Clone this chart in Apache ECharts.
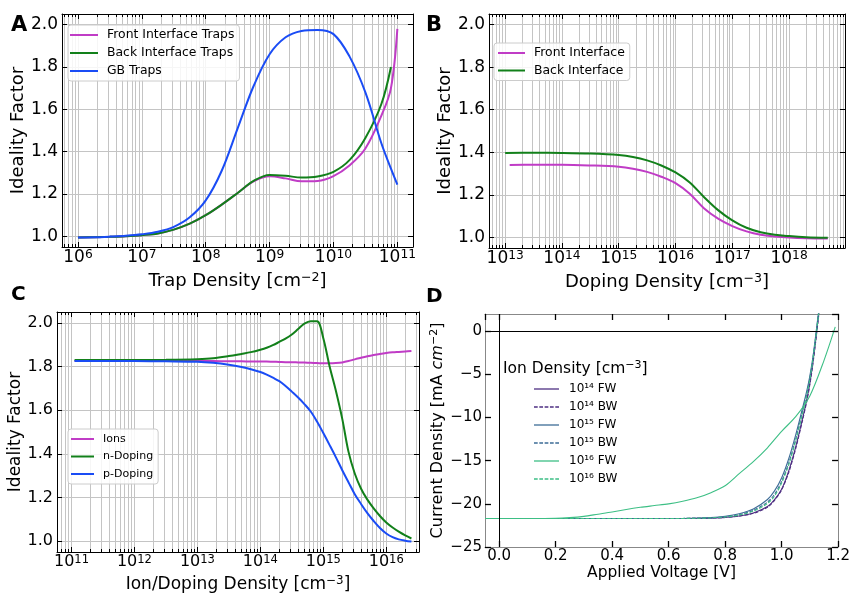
<!DOCTYPE html>
<html><head><meta charset="utf-8">
<script src="https://cdn.jsdelivr.net/npm/echarts@6/dist/echarts.min.js"></script>
<style>html,body{margin:0;padding:0;background:#fff}#c{width:853px;height:595px}</style>
</head><body><div id="c"></div>
<script>
// ---------- Panel A : ideality factor vs trap density ----------
const trapDensity = [1e6, 1.78e6, 3.16e6, 5.62e6, 1e7, 1.78e7, 3.16e7, 5.62e7, 1e8, 1.78e8, 3.16e8, 5.62e8, 1e9, 1.78e9, 3.16e9, 5.62e9, 1e10, 1.78e10, 3.16e10, 5.62e10, 7.94e10, 1e11];
const frontTraps = [0.995, 0.996, 0.998, 1.001, 1.006, 1.014, 1.032, 1.06, 1.10, 1.15, 1.205, 1.26, 1.284, 1.274, 1.26, 1.262, 1.285, 1.335, 1.415, 1.57, 1.70, 1.98];
const backTraps  = [0.995, 0.996, 0.998, 1.001, 1.006, 1.014, 1.032, 1.06, 1.10, 1.15, 1.205, 1.262, 1.29, 1.286, 1.278, 1.283, 1.305, 1.36, 1.465, 1.625, 1.80, null];
const gbTraps    = [0.995, 0.996, 0.999, 1.003, 1.01, 1.022, 1.045, 1.09, 1.17, 1.31, 1.51, 1.71, 1.86, 1.94, 1.97, 1.975, 1.955, 1.85, 1.68, 1.44, 1.32, 1.245];

// ---------- Panel B : ideality factor vs doping density ----------
const dopingDensityBack  = [1e13, 3.16e13, 1e14, 3.16e14, 1e15, 1.78e15, 3.16e15, 5.62e15, 1e16, 1.78e16, 3.16e16, 5.62e16, 1e17, 1.78e17, 3.16e17, 5.62e17, 1e18, 2e18, 4.8e18];
const dopingDensityFront = [1.2e13, 3.16e13, 1e14, 3.16e14, 1e15, 1.78e15, 3.16e15, 5.62e15, 1e16, 1.78e16, 3.16e16, 5.62e16, 1e17, 1.78e17, 3.16e17, 5.62e17, 1e18, 2e18, 4.8e18];
const backInterface  = [1.397, 1.398, 1.397, 1.394, 1.387, 1.378, 1.362, 1.338, 1.305, 1.258, 1.19, 1.128, 1.08, 1.045, 1.024, 1.012, 1.006, 1.001, 0.998];
const frontInterface = [1.34, 1.341, 1.341, 1.338, 1.332, 1.323, 1.308, 1.285, 1.255, 1.205, 1.137, 1.088, 1.053, 1.028, 1.012, 1.004, 0.999, 0.996, 0.995];

// ---------- Panel C : ideality factor vs ion / doping density ----------
const ionDopingDensity = [1.12e11, 3.16e11, 1e12, 3.16e12, 1e13, 1.78e13, 3.16e13, 5.01e13, 7.08e13, 1e14, 1.26e14, 1.58e14, 2e14, 2.51e14, 3.16e14, 3.98e14, 5.01e14, 6.31e14, 7.94e14, 1e15, 1.26e15, 1.58e15, 2e15, 2.51e15, 3.16e15, 3.98e15, 5.01e15, 6.31e15, 7.94e15, 1e16, 1.26e16, 1.58e16, 2e16, 2.51e16];
const ions     = [1.825, 1.825, 1.825, 1.825, 1.825, 1.825, 1.824, 1.824, 1.823, 1.823, 1.823, 1.822, 1.821, 1.82, 1.82, 1.819, 1.818, 1.817, 1.816, 1.815, 1.815, 1.816, 1.819, 1.825, 1.833, 1.84, 1.847, 1.853, 1.858, 1.862, 1.865, 1.867, 1.869, 1.871];
const nDoping  = [1.83, 1.83, 1.83, 1.831, 1.834, 1.838, 1.848, 1.858, 1.866, 1.877, 1.886, 1.898, 1.913, 1.928, 1.947, 1.972, 1.997, 2.008, 2.008, 1.93, 1.80, 1.69, 1.56, 1.41, 1.31, 1.24, 1.19, 1.15, 1.115, 1.085, 1.062, 1.043, 1.026, 1.012];
const pDoping  = [1.825, 1.825, 1.825, 1.824, 1.822, 1.817, 1.808, 1.798, 1.788, 1.775, 1.763, 1.749, 1.733, 1.711, 1.685, 1.658, 1.628, 1.594, 1.548, 1.495, 1.44, 1.385, 1.325, 1.27, 1.215, 1.17, 1.128, 1.092, 1.06, 1.035, 1.018, 1.008, 1.002, 0.998];

// ---------- Panel D : J-V curves ----------
const voltage = [-0.05, 0, 0.1, 0.2, 0.3, 0.4, 0.5, 0.6, 0.7, 0.75, 0.8, 0.85, 0.9, 0.95, 0.975, 1.0, 1.025, 1.05, 1.075, 1.09, 1.1, 1.11, 1.12, 1.13, 1.14];
const j14FW = [-21.7, -21.7, -21.7, -21.7, -21.7, -21.7, -21.7, -21.7, -21.68, -21.65, -21.57, -21.4, -21.05, -20.3, -19.5, -18.3, -16.2, -13.4, -10.0, -7.8, -6.0, -3.8, -1.2, 1.6, 4.5];
const j14BW = [-21.7, -21.7, -21.7, -21.7, -21.7, -21.7, -21.7, -21.7, -21.68, -21.65, -21.58, -21.42, -21.1, -20.4, -19.6, -18.4, -16.4, -13.6, -10.2, -8.0, -6.2, -4.0, -1.4, 1.4, 4.3];
const j15FW = [-21.7, -21.7, -21.7, -21.7, -21.7, -21.7, -21.7, -21.7, -21.66, -21.6, -21.45, -21.15, -20.6, -19.5, -18.5, -17.0, -14.8, -12.0, -8.8, -6.8, -5.2, -3.2, -0.7, 2.0, 4.8];
const j15BW = [-21.7, -21.7, -21.7, -21.7, -21.7, -21.7, -21.7, -21.7, -21.67, -21.62, -21.5, -21.25, -20.75, -19.8, -18.9, -17.4, -15.3, -12.5, -9.2, -7.1, -5.5, -3.4, -0.9, 1.8, 4.6];
const j16BW = [-21.7, -21.7, -21.7, -21.7, -21.7, -21.7, -21.7, -21.7, -21.67, -21.62, -21.52, -21.3, -20.85, -19.95, -19.1, -17.6, -15.5, -12.7, -9.4, -7.3, -5.6, -3.5, -1.0, 1.7, 4.5];
const voltage16FW = [-0.05, 0, 0.1, 0.2, 0.25, 0.3, 0.35, 0.4, 0.45, 0.5, 0.55, 0.6, 0.65, 0.7, 0.75, 0.8, 0.85, 0.9, 0.95, 1.0, 1.05, 1.1, 1.15, 1.19];
const j16FW = [-21.7, -21.7, -21.7, -21.68, -21.6, -21.45, -21.2, -20.95, -20.65, -20.4, -20.2, -20.0, -19.7, -19.3, -18.7, -17.9, -16.5, -15.1, -13.5, -11.6, -9.9, -7.5, -3.4, 0.5];

const FONT = 'DejaVu Sans';
const MAGENTA = '#c03cc6', GREEN = '#12801a', BLUE = '#1a4cf5';
const C14 = '#4e2f82', C15 = '#3d6c97', C16 = '#3dbf85';
const GRIDC = '#c4c4c4';
const DASH_ICON = 'path://M0,0h3.7v1h-3.7zM5.3,0h3.7v1h-3.7zM10.6,0h3.7v1h-3.7zM15.9,0h3.7v1h-3.7zM21.2,0h3.7v1h-3.7z';

const pairs = (xs, ys) => xs.map((x, i) => [x, ys[i]]);

function logX(gi, minE, maxE, fs, name, nameFs, nameGap, margin) {
  const common = { type: 'log', logBase: 10, gridIndex: gi, min: Math.pow(10, minE), max: Math.pow(10, maxE) };
  return [
    Object.assign({}, common, {
      position: 'bottom',
      name: name, nameLocation: 'middle', nameGap: nameGap,
      nameTextStyle: { fontSize: nameFs, fontFamily: FONT, color: '#000', lineHeight: nameFs + 2,
        rich: { s: { fontSize: nameFs * 0.7, fontFamily: FONT, color: '#000', verticalAlign: 'top', lineHeight: 6 } } },
      axisLine: { show: true, onZero: false, lineStyle: { color: '#000', width: 1 } },
      axisTick: { show: true, inside: true, length: 5, lineStyle: { color: '#000', width: 1 } },
      minorTick: { show: true, splitNumber: 9, length: 3, lineStyle: { color: '#000', width: 1 } },
      splitLine: { show: true, lineStyle: { color: GRIDC, width: 1 } },
      minorSplitLine: { show: true, lineStyle: { color: GRIDC, width: 1 } },
      axisLabel: {
        showMinLabel: false, showMaxLabel: false, margin: margin,
        formatter: v => '{b|10}{s|' + Math.round(Math.log10(v)) + '}',
        rich: {
          b: { fontSize: fs, lineHeight: fs, fontFamily: FONT, color: '#000' },
          s: { fontSize: fs * 0.72, lineHeight: 3, verticalAlign: 'top', fontFamily: FONT, color: '#000' }
        }
      }
    }),
    Object.assign({}, common, {
      position: 'top',
      axisLine: { show: true, onZero: false, lineStyle: { color: '#000', width: 1 } },
      axisTick: { show: true, inside: true, length: 5, lineStyle: { color: '#000', width: 1 } },
      minorTick: { show: true, splitNumber: 9, length: 3, lineStyle: { color: '#000', width: 1 } },
      splitLine: { show: false }, minorSplitLine: { show: false },
      axisLabel: { show: false }
    })
  ];
}

function idealY(gi, fs, nameFs, nameGap) {
  const common = { type: 'value', gridIndex: gi, min: 0.95, max: 2.05, splitNumber: 5 };
  return [
    Object.assign({}, common, {
      position: 'left',
      name: 'Ideality Factor', nameLocation: 'middle', nameGap: nameGap,
      nameTextStyle: { fontSize: nameFs, fontFamily: FONT, color: '#000' },
      axisLine: { show: true, onZero: false, lineStyle: { color: '#000', width: 1 } },
      axisTick: { show: true, inside: true, length: 5, lineStyle: { color: '#000', width: 1 } },
      splitLine: { show: true, lineStyle: { color: GRIDC, width: 1 } },
      axisLabel: { showMinLabel: false, showMaxLabel: false, margin: 4, fontSize: fs, fontFamily: FONT, color: '#000',
        formatter: v => v.toFixed(1) }
    }),
    Object.assign({}, common, {
      position: 'right',
      axisLine: { show: true, onZero: false, lineStyle: { color: '#000', width: 1 } },
      axisTick: { show: true, inside: true, length: 5, lineStyle: { color: '#000', width: 1 } },
      splitLine: { show: false }, axisLabel: { show: false }
    })
  ];
}

const xAxes = [].concat(
  logX(0, 5.75, 11.245, 17, 'Trap Density [cm{s|−2}]', 18, 24, 2),
  logX(1, 12.715, 18.985, 17, 'Doping Density [cm{s|−3}]', 18, 24, 2),
  logX(2, 10.77, 16.52, 16, 'Ion/Doping Density [cm{s|−3}]', 17, 23, 2),
  [
    { type: 'value', gridIndex: 3, position: 'bottom', min: -0.05, max: 1.2, splitNumber: 6,
      name: 'Applied Voltage [V]', nameLocation: 'middle', nameGap: 17,
      nameTextStyle: { fontSize: 15.5, fontFamily: FONT, color: '#000' },
      axisLine: { show: true, onZero: false, lineStyle: { color: '#888', width: 1 } },
      axisTick: { show: true, inside: true, length: 6, lineStyle: { color: '#000', width: 1.3 } },
      splitLine: { show: false },
      axisLabel: { showMinLabel: false, margin: 2, fontSize: 15, fontFamily: FONT, color: '#000', formatter: v => v.toFixed(1) } },
    { type: 'value', gridIndex: 3, position: 'top', min: -0.05, max: 1.2, splitNumber: 6,
      axisLine: { show: true, onZero: false, lineStyle: { color: '#888', width: 1 } },
      axisTick: { show: true, inside: true, length: 6, lineStyle: { color: '#000', width: 1.3 } },
      splitLine: { show: false }, axisLabel: { show: false } }
  ]
);

const yAxes = [].concat(
  idealY(0, 17, 18, 34),
  idealY(1, 17, 18, 35),
  idealY(2, 16, 17, 31),
  [
    { type: 'value', gridIndex: 3, position: 'left', min: -25, max: 2, interval: 5,
      name: 'Current Density [mA {i|cm}{s|−2}]', nameLocation: 'middle', nameGap: 38,
      nameTextStyle: { fontSize: 16, fontFamily: FONT, color: '#000', lineHeight: 18,
        rich: { i: { fontSize: 16, fontStyle: 'italic', fontFamily: FONT, color: '#000' },
                s: { fontSize: 11, verticalAlign: 'top', lineHeight: 6, fontFamily: FONT, color: '#000' } } },
      axisLine: { show: true, onZero: false, lineStyle: { color: '#888', width: 1 } },
      axisTick: { show: true, inside: true, length: 6, lineStyle: { color: '#000', width: 1.3 } },
      splitLine: { show: false },
      axisLabel: { showMaxLabel: false, margin: 3, fontSize: 15, fontFamily: FONT, color: '#000',
        formatter: v => String(v).replace('-', '−') } },
    { type: 'value', gridIndex: 3, position: 'right', min: -25, max: 2, interval: 5,
      axisLine: { show: true, onZero: false, lineStyle: { color: '#888', width: 1 } },
      axisTick: { show: true, inside: true, length: 6, lineStyle: { color: '#000', width: 1.3 } },
      splitLine: { show: false }, axisLabel: { show: false } }
  ]
);

function line(name, gi, data, color, width, dashed) {
  return { type: 'line', name: name, xAxisIndex: gi * 2, yAxisIndex: gi * 2, data: data,
    symbol: 'none', smooth: gi === 3 ? 0.3 : 0.35, color: color,
    lineStyle: { color: color, width: width, type: dashed ? [3.7, 1.6] : 'solid' }, z: 3 };
}

const series = [
  line('Front Interface Traps', 0, pairs(trapDensity, frontTraps), MAGENTA, 2),
  line('Back Interface Traps', 0, pairs(trapDensity, backTraps), GREEN, 2),
  line('GB Traps', 0, pairs(trapDensity, gbTraps), BLUE, 2),
  line('Front Interface', 1, pairs(dopingDensityFront, frontInterface), MAGENTA, 2),
  line('Back Interface', 1, pairs(dopingDensityBack, backInterface), GREEN, 2),
  line('Ions', 2, pairs(ionDopingDensity, ions), MAGENTA, 2),
  line('n-Doping', 2, pairs(ionDopingDensity, nDoping), GREEN, 2),
  line('p-Doping', 2, pairs(ionDopingDensity, pDoping), BLUE, 2),
  line('10¹⁴ FW', 3, pairs(voltage, j14FW), C14, 1.1),
  line('10¹⁴ BW', 3, pairs(voltage, j14BW), C14, 1.1, true),
  line('10¹⁵ FW', 3, pairs(voltage, j15FW), C15, 1.1),
  line('10¹⁵ BW', 3, pairs(voltage, j15BW), C15, 1.1, true),
  line('10¹⁶ FW', 3, pairs(voltage16FW, j16FW), C16, 1.1),
  line('10¹⁶ BW', 3, pairs(voltage, j16BW), C16, 1.1, true)
];
// reference lines at V = 0 and J = 0
series[8].markLine = { silent: true, symbol: ['none', 'none'], animation: false,
  lineStyle: { color: '#000', width: 1, type: 'solid' }, label: { show: false },
  data: [{ xAxis: 0 }, { yAxis: 0 }] };

function boxLegend(names, left, top, fs, iw, gap, pad) {
  return { data: names.map(n => ({ name: n, icon: 'rect' })), left: left, top: top, orient: 'vertical', selectedMode: false,
    itemWidth: iw, itemHeight: 2, itemGap: gap, padding: pad, symbolKeepAspect: false,
    backgroundColor: 'rgba(255,255,255,0.85)', borderColor: '#cccccc', borderWidth: 1, borderRadius: 3,
    textStyle: { fontSize: fs, fontFamily: FONT, color: '#000', lineHeight: 14, padding: [0, 0, 0, 4] } };
}

const option = {
  animation: false,
  backgroundColor: '#fff',
  textStyle: { fontFamily: FONT },
  grid: [
    { left: 62, top: 14, width: 351, height: 233, containLabel: false },
    { left: 489, top: 14, width: 356, height: 234, containLabel: false },
    { left: 57, top: 312, width: 362, height: 240, containLabel: false },
    { left: 485, top: 314, width: 354, height: 233, containLabel: false }
  ],
  xAxis: xAxes,
  yAxis: yAxes,
  legend: [
    boxLegend(['Front Interface Traps', 'Back Interface Traps', 'GB Traps'], 68, 25, 12.4, 28, 4, [3, 5, 3, 2]),
    boxLegend(['Front Interface', 'Back Interface'], 494, 43, 12.4, 27, 3.5, [3, 5, 3, 4]),
    boxLegend(['Ions', 'n-Doping', 'p-Doping'], 68, 429, 11, 23, 3.5, [3, 5, 3, 3]),
    { data: [
        { name: '10¹⁴ FW', icon: 'rect' }, { name: '10¹⁴ BW', icon: DASH_ICON },
        { name: '10¹⁵ FW', icon: 'rect' }, { name: '10¹⁵ BW', icon: DASH_ICON },
        { name: '10¹⁶ FW', icon: 'rect' }, { name: '10¹⁶ BW', icon: DASH_ICON } ],
      left: 534, top: 382, symbolKeepAspect: false,
      orient: 'vertical', selectedMode: false, itemWidth: 25, itemHeight: 1.3, itemGap: 4, padding: 0,
      textStyle: { fontSize: 12, fontFamily: FONT, color: '#000', lineHeight: 14, padding: [0, 0, 0, 5] } }
  ],
  graphic: [
    { type: 'text', left: 11, top: 15, style: { text: 'A', font: 'bold 21px "DejaVu Sans"', fill: '#000' } },
    { type: 'text', left: 426, top: 15, style: { text: 'B', font: 'bold 21px "DejaVu Sans"', fill: '#000' } },
    { type: 'text', left: 11, top: 285, style: { text: 'C', font: 'bold 20px "DejaVu Sans"', fill: '#000' } },
    { type: 'text', left: 426, top: 287, style: { text: 'D', font: 'bold 20px "DejaVu Sans"', fill: '#000' } },
    { type: 'text', left: 503, top: 360, style: { text: 'Ion Density [cm{s|−3}]', fontSize: 15.5, fontFamily: FONT, fill: '#000', lineHeight: 18,
        rich: { s: { fontSize: 11, verticalAlign: 'top', lineHeight: 6, fontFamily: FONT, fill: '#000' } } } }
  ],
  series: series
};

const chart = echarts.init(document.getElementById('c'), null, { renderer: 'canvas' });
chart.setOption(option);
</script>
</body></html>
